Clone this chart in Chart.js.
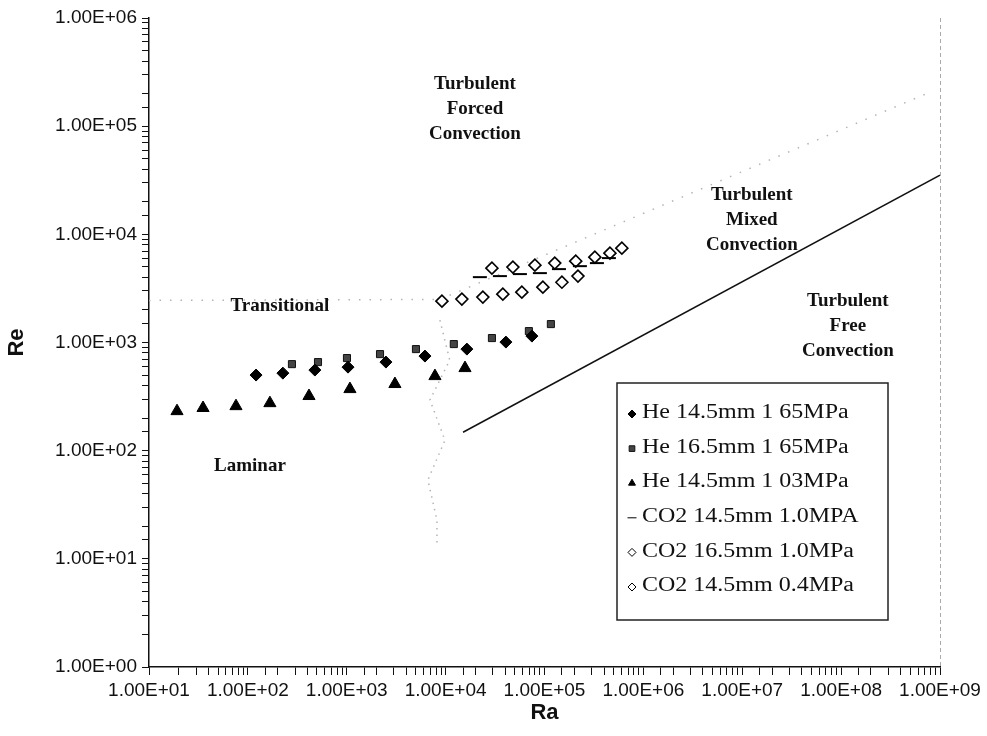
<!DOCTYPE html>
<html>
<head>
<meta charset="utf-8">
<script src="https://cdn.jsdelivr.net/npm/chart.js@4.4.0/dist/chart.umd.min.js"></script>
<style>
  html, body { margin: 0; padding: 0; background: #fff; }
</style>
</head>
<body>
<canvas id="reChart" width="987" height="736"></canvas>
<script>
// values (Ra, Re)
const he145_165_ra = [121, 226, 476, 1030, 2490, 6180, 16400, 40700, 74600];
const he145_165_re = [500, 521, 556, 592, 659, 749, 869, 1009, 1146];

const he165_165_ra = [279, 512, 1005, 2170, 5010, 12100, 29400, 69500, 116000];
const he165_165_re = [631, 659, 718, 781, 869, 967, 1099, 1275, 1480];

const he145_103_ra = [19.2, 35.2, 75.8, 167, 415, 1077, 3070, 7800, 15700];
const he145_103_re = [232, 248, 258, 275, 320, 371, 413, 489, 580];

const co2_145_10_ra = [22200, 35400, 56400, 89800, 140000, 228000, 339000, 448000];
const co2_145_10_re = [4020, 4110, 4290, 4380, 4770, 5080, 5420, 6030];

const co2_165_10_ra = [29400, 47900, 80000, 127000, 207000, 323000, 459000, 606000];
const co2_165_10_re = [4870, 4980, 5190, 5420, 5650, 6150, 6700, 7450];

const co2_145_04_ra = [9180, 14600, 23800, 37900, 59000, 96300, 150000, 218000];
const co2_145_04_re = [2410, 2520, 2630, 2800, 2920, 3250, 3610, 4110];

// regime boundaries
const freeLine_ra = [15000, 1e9];
const freeLine_re = [148, 35200];
const lamTrans_ra = [10, 8750];
const lamTrans_re = [2450, 2500];
const forcedLine_ra = [8750, 790000000];
const forcedLine_re = [2500, 206000];
const mixedBand_ra = [8750, 11000, 6940, 9840, 6620, 8170, 8170];
const mixedBand_re = [1610, 688, 294, 125, 53.5, 22.8, 13.4];

// regime labels
const regionText = [['Turbulent', 'Forced', 'Convection'], ['Turbulent', 'Mixed', 'Convection'],
                    ['Turbulent', 'Free', 'Convection'], ['Transitional'], ['Laminar']];
const regionRa = [19800, 12500000, 117000000, 211, 105];
const regionRe = [143000, 13500, 1420, 2170, 72];

const seriesNames = ['He 14.5mm 1 65MPa', 'He 16.5mm 1 65MPa', 'He 14.5mm 1 03MPa',
                     'CO2 14.5mm 1.0MPA', 'CO2 16.5mm 1.0MPa', 'CO2 14.5mm 0.4MPa'];

function pts(xs, ys) {
    return xs.map((x, i) => ({ x: x, y: ys[i] }));
}

function sciLabel(v) {
    const e = Math.log10(v);
    if (Math.abs(e - Math.round(e)) > 1e-6) return '';
    const n = Math.round(e);
    return '1.00E' + (n < 0 ? '-' : '+') + String(Math.abs(n)).padStart(2, '0');
}

const markerStyles = [
    { pointStyle: 'rectRot', radius: 6, bg: '#000', border: '#000', bw: 1 },
    { pointStyle: 'rect', radius: 5, bg: '#444', border: '#111', bw: 1 },
    { pointStyle: 'triangle', radius: 7, bg: '#000', border: '#000', bw: 1 },
    { pointStyle: 'line', radius: 7, bg: '#000', border: '#000', bw: 2 },
    { pointStyle: 'rectRot', radius: 6, bg: '#fff', border: '#000', bw: 1.6 },
    { pointStyle: 'rectRot', radius: 6, bg: '#fff', border: '#000', bw: 1.6 }
];

const markerData = [
    pts(he145_165_ra, he145_165_re), pts(he165_165_ra, he165_165_re), pts(he145_103_ra, he145_103_re),
    pts(co2_145_10_ra, co2_145_10_re), pts(co2_165_10_ra, co2_165_10_re), pts(co2_145_04_ra, co2_145_04_re)
];

const datasets = markerData.map((d, i) => ({
    label: seriesNames[i],
    data: d,
    showLine: false,
    pointStyle: markerStyles[i].pointStyle,
    pointRadius: markerStyles[i].radius,
    pointBackgroundColor: markerStyles[i].bg,
    pointBorderColor: markerStyles[i].border,
    pointBorderWidth: markerStyles[i].bw
}));

const dotted = { showLine: true, pointRadius: 0, borderColor: '#b4b4b4', borderWidth: 1.5, borderDash: [1.5, 9], tension: 0 };
datasets.push(Object.assign({ label: 'lamTrans', data: pts(lamTrans_ra, lamTrans_re) }, dotted));
datasets.push(Object.assign({ label: 'forced', data: pts(forcedLine_ra, forcedLine_re) }, dotted));
datasets.push(Object.assign({ label: 'mixed', data: pts(mixedBand_ra, mixedBand_re) }, dotted, { borderDash: [1.5, 5] }));
datasets.push({ label: 'free', data: pts(freeLine_ra, freeLine_re), showLine: true, pointRadius: 0,
                borderColor: '#111', borderWidth: 1.5 });

const decorPlugin = {
    id: 'decor',
    afterDraw(chart) {
        const ctx = chart.ctx;
        const xs = chart.scales.x, ys = chart.scales.y;
        const area = chart.chartArea;
        ctx.save();

        // faint right border
        ctx.strokeStyle = '#aaa';
        ctx.lineWidth = 1;
        ctx.setLineDash([4, 3]);
        ctx.beginPath();
        ctx.moveTo(area.right + 0.5, area.top);
        ctx.lineTo(area.right + 0.5, area.bottom);
        ctx.stroke();
        ctx.setLineDash([]);

        // regime labels
        ctx.fillStyle = '#111';
        ctx.font = 'bold 19px "Liberation Serif", serif';
        ctx.textAlign = 'center';
        ctx.textBaseline = 'middle';
        regionText.forEach((lines, i) => {
            const cx = xs.getPixelForValue(regionRa[i]);
            const cy = ys.getPixelForValue(regionRe[i]);
            const off = (lines.length - 1) / 2;
            lines.forEach((t, j) => ctx.fillText(t, cx, cy + (j - off) * 25));
        });

        // legend box
        const bx = 617, by = 383, bw = 271, bh = 237;
        ctx.fillStyle = '#fff';
        ctx.fillRect(bx, by, bw, bh);
        ctx.strokeStyle = '#222';
        ctx.lineWidth = 1.5;
        ctx.strokeRect(bx, by, bw, bh);
        ctx.font = '20px "Liberation Serif", serif';
        ctx.textAlign = 'left';
        seriesNames.forEach((name, i) => {
            const y = by + 30 + i * 34.6;
            const m = markerStyles[i];
            ctx.fillStyle = m.bg;
            ctx.strokeStyle = m.border;
            ctx.lineWidth = 1;
            Chart.helpers.drawPoint(ctx, { pointStyle: m.pointStyle, radius: m.pointStyle === 'line' ? 4.5 : 4, rotation: 0, borderWidth: 1 }, bx + 15, y + 1);
            ctx.fillStyle = '#111';
            ctx.save();
            ctx.translate(bx + 25, y);
            ctx.scale(1.2, 1);
            ctx.fillText(name, 0, 0);
            ctx.restore();
        });
        ctx.restore();
    }
};

new Chart(document.getElementById('reChart'), {
    type: 'scatter',
    data: { datasets: datasets },
    options: {
        responsive: false,
        animation: false,
        layout: { padding: { top: 18, right: 47, left: 0, bottom: 0 } },
        plugins: { legend: { display: false }, tooltip: { enabled: false } },
        scales: {
            x: {
                type: 'logarithmic',
                min: 10,
                max: 1e9,
                afterFit: s => { s.height = 69; },
                border: { display: true, color: '#111', width: 1.5 },
                grid: { drawOnChartArea: false, color: '#111', tickLength: 8 },
                ticks: {
                    autoSkip: false, maxRotation: 0, padding: 4, color: '#111',
                    font: { family: '"Liberation Sans", Arial, sans-serif', size: 19 },
                    callback: v => sciLabel(v)
                },
                title: { display: true, text: 'Ra', color: '#111', padding: { top: 0, bottom: 10 },
                         font: { family: '"Liberation Sans", Arial, sans-serif', size: 22, weight: 'bold' } }
            },
            y: {
                type: 'logarithmic',
                min: 1,
                max: 1e6,
                afterFit: s => { s.width = 149; },
                border: { display: true, color: '#111', width: 1.5 },
                grid: { drawOnChartArea: false, color: '#111', tickLength: 7 },
                ticks: {
                    autoSkip: false, padding: 5, color: '#111',
                    font: { family: '"Liberation Sans", Arial, sans-serif', size: 19 },
                    callback: v => sciLabel(v)
                },
                title: { display: true, text: 'Re', color: '#111', padding: { top: 4, bottom: 0 },
                         font: { family: '"Liberation Sans", Arial, sans-serif', size: 22, weight: 'bold' } }
            }
        }
    },
    plugins: [decorPlugin]
});
</script>
</body>
</html>
